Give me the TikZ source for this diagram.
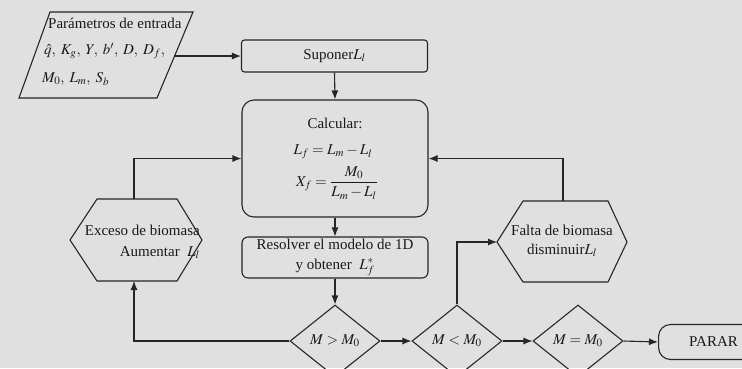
\documentclass[tikz,border=0pt]{standalone}
\usepackage{mathptmx}
\usepackage[no-math]{fontspec}
\setmainfont{Liberation Serif}
\usetikzlibrary{arrows.meta,shapes.geometric,calc}
\begin{document}
\begin{tikzpicture}[x=1pt,y=-1pt,
  line/.style={line width=1.1pt, draw=black!85},
  arr/.style={line, -{Latex[length=9pt,width=7pt]}},
  txt/.style={font=\fontsize{15}{18}\selectfont, text=black!90, inner sep=0pt},
  procbox/.style={line, txt, minimum width=186pt},
  decision/.style={line, diamond, shape aspect=1.25, minimum width=90pt, minimum height=72pt, txt},
]
\useasboundingbox (0,0) rectangle (742,368);
\fill[black!12] (0,0) rectangle (742,368);
\clip (0,0) rectangle (742,368);

% input parallelogram
\coordinate (pTL) at (50,12);
\coordinate (pTR) at (193,12);
\coordinate (pBR) at (157,98);
\coordinate (pBL) at (19,98);
\draw[line] (pTL) -- (pTR) -- (pBR) -- (pBL) -- cycle;
\node[txt, anchor=west] (p1) at (48,23) {Parámetros de entrada};
\node[txt, anchor=west] (p2) at (44,51) {$\hat{q},\; K_g,\; Y,\; b',\; D,\; D_f,$};
\node[txt, anchor=west] (p3) at (42,79) {$M_0,\; L_m,\; S_b$};
\coordinate (parOut) at (174,56);

% process boxes
\node[procbox, minimum height=32pt, rounded corners=3pt] (sup) at (334.5,56) {Suponer$L_l$};
\node[procbox, minimum height=117pt, rounded corners=12pt] (calc) at (335,158.5) {};
\node[txt] (calcT) at (335,123) {Calcular:};
\node[txt] (lf) at (333,152) {$L_f = L_m - L_l$};
\node[txt] (xf) at (337,183) {$X_f = \displaystyle\frac{M_0}{L_m - L_l}$};
\node[procbox, minimum height=41pt, rounded corners=6pt, align=center] (res) at (335,257.5) {Resolver el modelo de 1D\\[2pt] y obtener \ $L_f^*$};

% Exceso hexagon
\coordinate (exL) at (70,240);
\coordinate (exTL) at (97,199);
\coordinate (exTR) at (177,199);
\coordinate (exR) at (202,240);
\coordinate (exBR) at (177,281);
\coordinate (exBL) at (97,281);
\coordinate (exT) at (134,199);
\coordinate (exB) at (134,281);
\draw[line] (exL) -- (exTL) -- (exTR) -- (exR) -- (exBR) -- (exBL) -- cycle;
\node[txt, align=right, anchor=east] (exTxt) at (200,242) {Exceso de biomasa\\[3pt] Aumentar \ $L_l$};

% Falta hexagon
\coordinate (faL) at (497,242);
\coordinate (faTL) at (523,201);
\coordinate (faTR) at (608,201);
\coordinate (faR) at (627,242);
\coordinate (faBR) at (608,282);
\coordinate (faBL) at (523,282);
\coordinate (faT) at (563,201);
\draw[line] (faL) -- (faTL) -- (faTR) -- (faR) -- (faBR) -- (faBL) -- cycle;
\node[txt, align=center] (faTxt) at (562,241) {Falta de biomasa\\[1pt] disminuir$L_l$};

% decisions
\node[decision] (gt) at (335,341) {$M > M_0$};
\node[decision] (lt) at (457,341) {$M < M_0$};
\node[decision] (eq) at (578,341) {$M = M_0$};
\node[line, txt, rounded corners=12pt, minimum width=110pt, minimum height=35pt, anchor=west] (parar) at (658,342) {PARAR};

% connectors
\draw[arr] (parOut) -- (sup.west);
\draw[arr] (sup.south) -- (calc.north);
\draw[arr] (calc.south) -- (res.north);
\draw[arr] (res.south) -- (gt.north);
\draw[arr] (gt.west) -| (exB);
\draw[arr] (exT) |- (calc.west);
\draw[arr] (gt.east) -- (lt.west);
\draw[arr] (lt.north) |- (faL);
\draw[arr] (faT) |- (calc.east);
\draw[arr] (lt.east) -- (eq.west);
\draw[arr] (eq.east) -- (parar.west);
\end{tikzpicture}
\end{document}
